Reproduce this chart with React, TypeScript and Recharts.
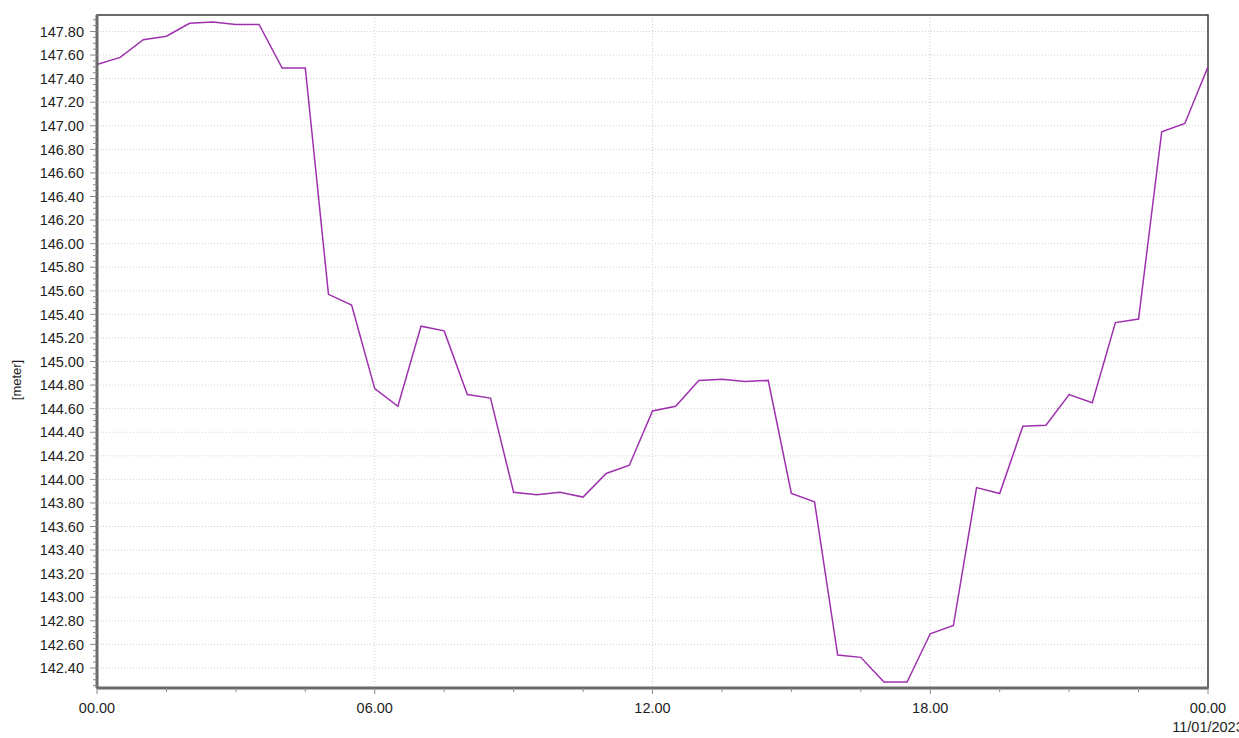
import React from "react";
import {
  LineChart,
  Line,
  XAxis,
  YAxis,
  CartesianGrid,
  ReferenceArea,
} from "recharts";

// Water level every 30 minutes from 00.00 to 00.00 (next day)
const levels: number[] = [
  147.52, 147.58, 147.73, 147.76, 147.87, 147.88, 147.86, 147.86, 147.49, 147.49,
  145.57, 145.48, 144.77, 144.62, 145.30, 145.26, 144.72, 144.69, 143.89, 143.87,
  143.89, 143.85, 144.05, 144.12, 144.58, 144.62, 144.84, 144.85, 144.83, 144.84,
  143.88, 143.81, 142.51, 142.49, 142.28, 142.28, 142.69, 142.76, 143.93, 143.88,
  144.45, 144.46, 144.72, 144.65, 145.33, 145.36, 146.95, 147.02, 147.50,
];
const hours: number[] = levels.map((_, i) => i * 0.5);

const xMajorTicks: number[] = [0, 6, 12, 18, 24];
const xTickLabels: string[] = ["00.00", "06.00", "12.00", "18.00", "00.00"];
const xDateLabel = "11/01/2023";
const xMinorTicks: number[] = [0, 1.5, 3, 4.5, 6, 7.5, 9, 10.5, 12, 13.5, 15, 16.5, 18, 19.5, 21, 22.5, 24];

const yMajorTicks: number[] = [
  142.4, 142.6, 142.8, 143.0, 143.2, 143.4, 143.6, 143.8, 144.0, 144.2, 144.4,
  144.6, 144.8, 145.0, 145.2, 145.4, 145.6, 145.8, 146.0, 146.2, 146.4, 146.6,
  146.8, 147.0, 147.2, 147.4, 147.6, 147.8,
];
const yDomain: [number, number] = [142.23, 147.94];
const yAllTicks: number[] = [];
for (let k = Math.ceil(yDomain[0] / 0.05); k * 0.05 <= yDomain[1]; k++) {
  yAllTicks.push(Math.round(k * 5) / 100);
}

const data = hours.map((h, i) => ({ h, v: levels[i] }));

const FONT = "'Liberation Sans', Arial, sans-serif";
const TEXT = "#1e1e1e";
const LINE = "#9e30ae";

const isMajorY = (v: number) => yMajorTicks.some((m) => Math.abs(m - v) < 1e-6);

const XTick = (props: any) => {
  const { x, y, payload } = props;
  const v = payload.value as number;
  const idx = xMajorTicks.indexOf(v);
  const major = idx >= 0;
  return (
    <g>
      <line x1={x} x2={x} y1={y} y2={y + (major ? 6 : 4)} stroke="#888" strokeWidth={1} />
      {major && (
        <text x={x} y={y + 25} textAnchor="middle" fontSize={14.5} fontFamily={FONT} fill={TEXT}>
          {xTickLabels[idx]}
        </text>
      )}
      {major && idx === xMajorTicks.length - 1 && (
        <text x={x} y={y + 44} textAnchor="middle" fontSize={14.5} fontFamily={FONT} fill={TEXT}>
          {xDateLabel}
        </text>
      )}
    </g>
  );
};

const YTick = (props: any) => {
  const { x, y, payload } = props;
  const v = payload.value as number;
  const major = isMajorY(v);
  return (
    <g>
      <line x1={x - (major ? 7 : 4)} x2={x} y1={y} y2={y} stroke="#888" strokeWidth={1} />
      {major && (
        <text x={x - 13} y={y} dy="0.36em" textAnchor="end" fontSize={14.5} fontFamily={FONT} fill={TEXT}>
          {v.toFixed(2)}
        </text>
      )}
    </g>
  );
};

const YLabel = () => (
  <text
    x={21}
    y={380}
    transform="rotate(-90, 21, 380)"
    textAnchor="middle"
    fontSize={13}
    fontFamily={FONT}
    fill={TEXT}
  >
    [meter]
  </text>
);

export default function App() {
  return (
    <div style={{ position: "absolute", left: 0, top: 0, width: 1239, height: 738, background: "#fff" }}>
      <LineChart
        width={1239}
        height={738}
        data={data}
        margin={{ top: 15, right: 31, left: 0, bottom: 0 }}
      >
        <CartesianGrid
          horizontalValues={yMajorTicks}
          verticalValues={[6, 12, 18]}
          stroke="#cfcfcf"
          strokeDasharray="1 2"
        />
        <XAxis
          dataKey="h"
          type="number"
          domain={[0, 24]}
          ticks={xMinorTicks}
          interval={0}
          height={50}
          tickSize={0}
          tickMargin={0}
          tickLine={false}
          tick={<XTick />}
          axisLine={{ stroke: "#6a6a6a", strokeWidth: 3 }}
          allowDataOverflow
        />
        <YAxis
          type="number"
          domain={yDomain}
          ticks={yAllTicks}
          interval={0}
          width={97}
          tickSize={0}
          tickMargin={0}
          tickLine={false}
          tick={<YTick />}
          axisLine={{ stroke: "#6a6a6a", strokeWidth: 3 }}
          allowDataOverflow
          label={{ content: <YLabel /> }}
        />
        <ReferenceArea
          x1={0}
          x2={24}
          y1={yDomain[0]}
          y2={yDomain[1]}
          fill="none"
          stroke="#3a3a3a"
          strokeWidth={1.5}
          ifOverflow="visible"
        />
        <Line
          type="linear"
          dataKey="v"
          stroke={LINE}
          strokeWidth={1.5}
          dot={false}
          isAnimationActive={false}
        />
      </LineChart>
    </div>
  );
}
